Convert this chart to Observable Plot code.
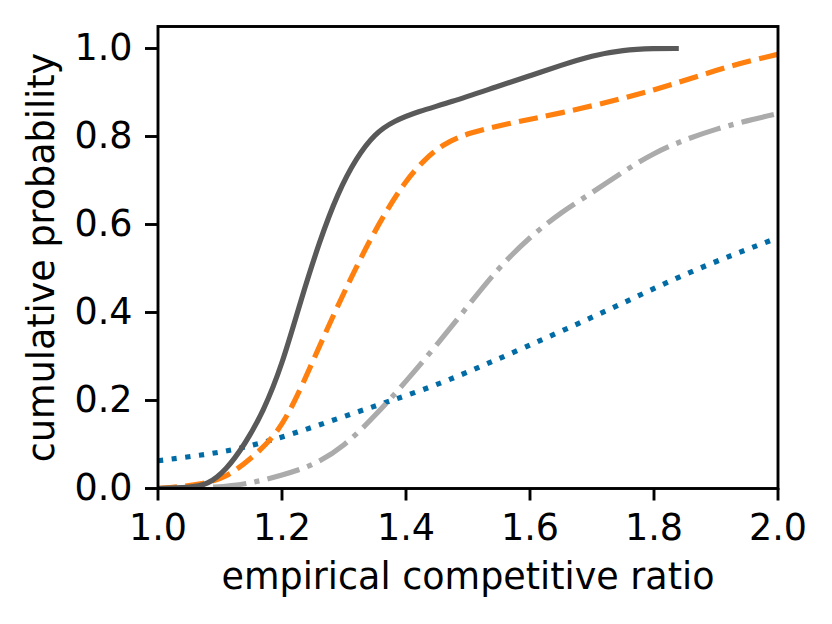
<!DOCTYPE html>
<html>
<head>
<meta charset="utf-8">
<script src="https://cdn.jsdelivr.net/npm/d3@7"></script>
<script src="https://cdn.jsdelivr.net/npm/@observablehq/plot@0.6"></script>
<style>
  html, body { margin: 0; padding: 0; background: white; }
  #chart { width: 832px; height: 624px; }
</style>
</head>
<body>
<div id="chart"></div>
<script>
// ---- data ----
const xTicks = [1.0, 1.2, 1.4, 1.6, 1.8, 2.0];
const yTicks = [0.0, 0.2, 0.4, 0.6, 0.8, 1.0];

const solidX = [1.00, 1.05, 1.08, 1.11, 1.14, 1.17, 1.20, 1.23, 1.26, 1.29, 1.32, 1.35, 1.38, 1.42, 1.47, 1.55, 1.60, 1.65, 1.70, 1.75, 1.80, 1.84];
const solidY = [0.000, 0.002, 0.008, 0.042, 0.100, 0.175, 0.280, 0.426, 0.560, 0.672, 0.752, 0.807, 0.835, 0.857, 0.877, 0.915, 0.938, 0.962, 0.984, 0.997, 1.000, 1.000];

const dashedX = [1.00, 1.035, 1.07, 1.11, 1.15, 1.19, 1.22, 1.25, 1.28, 1.31, 1.34, 1.37, 1.40, 1.43, 1.46, 1.50, 1.56, 1.65, 1.75, 1.83, 1.92, 2.00];
const dashedY = [0.000, 0.004, 0.010, 0.024, 0.068, 0.120, 0.195, 0.290, 0.385, 0.475, 0.560, 0.635, 0.700, 0.748, 0.783, 0.808, 0.828, 0.853, 0.886, 0.918, 0.960, 0.987];

const dashdotX = [1.00, 1.10, 1.15, 1.20, 1.25, 1.30, 1.35, 1.40, 1.45, 1.50, 1.55, 1.60, 1.65, 1.70, 1.75, 1.80, 1.85, 1.90, 1.95, 2.00];
const dashdotY = [0.000, 0.002, 0.012, 0.030, 0.052, 0.095, 0.165, 0.243, 0.327, 0.415, 0.503, 0.572, 0.628, 0.672, 0.720, 0.763, 0.793, 0.817, 0.836, 0.852];

const dottedX = [1.00, 1.067, 1.133, 1.214, 1.294, 1.375, 1.466, 1.590, 1.725, 1.859, 2.00];
const dottedY = [0.063, 0.075, 0.090, 0.122, 0.161, 0.199, 0.243, 0.320, 0.404, 0.495, 0.570];

const seriesColors = ["#595959", "#FF800E", "#ABABAB", "#006BA4"];

const xLabel = "empirical competitive ratio";
const yLabel = "cumulative probability";

// ---- build tables ----
const toRows = (xs, ys) => xs.map((x, i) => ({x, y: ys[i]}));
const solid = toRows(solidX, solidY);
const dashed = toRows(dashedX, dashedY);
const dashdot = toRows(dashdotX, dashdotY);
const dotted = toRows(dottedX, dottedY);

const LW = 5.2;
const FS = 36.5;
const CURVE = "basis";

const chart = Plot.plot({
  width: 832,
  height: 624,
  marginLeft: 157.5,
  marginRight: 54.5,
  marginTop: 26,
  marginBottom: 136,
  style: {fontFamily: "DejaVu Sans", background: "white", color: "black", overflow: "visible"},
  x: {domain: [1, 2]},
  y: {domain: [0, 1.05]},
  marks: [
    Plot.line(dotted, {x: "x", y: "y", stroke: seriesColors[3], strokeWidth: LW, strokeDasharray: `${LW},${LW*1.65}`, strokeLinecap: "butt", curve: CURVE, clip: true}),
    Plot.line(dashdot, {x: "x", y: "y", stroke: seriesColors[2], strokeWidth: LW, strokeDasharray: `${LW*6.4},${LW*1.6},${LW},${LW*1.6}`, strokeLinecap: "butt", curve: CURVE, clip: true}),
    Plot.line(dashed, {x: "x", y: "y", stroke: seriesColors[1], strokeWidth: LW, strokeDasharray: `${LW*3.7},${LW*1.6}`, strokeLinecap: "butt", curve: CURVE, clip: true}),
    Plot.line(solid, {x: "x", y: "y", stroke: seriesColors[0], strokeWidth: LW, strokeLinecap: "butt", curve: CURVE, clip: true}),
    Plot.frame({stroke: "black", strokeWidth: 2.9}),
    Plot.axisX({ticks: xTicks, tickFormat: d3.format(".1f"), tickSize: 12.5, tickPadding: 13, strokeWidth: 2.9, fontSize: FS, label: null, fill: "black"}),
    Plot.axisY({ticks: yTicks, tickFormat: d3.format(".1f"), tickSize: 12.5, tickPadding: 13, strokeWidth: 2.9, fontSize: FS, label: null, fill: "black"}),
    Plot.text([xLabel], {frameAnchor: "bottom", textAnchor: "middle", lineAnchor: "bottom", dy: 100, fontSize: FS, fill: "black", text: d => d}),
    Plot.text([yLabel], {frameAnchor: "left", textAnchor: "middle", lineAnchor: "bottom", rotate: -90, dx: -104, fontSize: FS, fill: "black", text: d => d})
  ]
});
document.getElementById("chart").appendChild(chart);
</script>
</body>
</html>
